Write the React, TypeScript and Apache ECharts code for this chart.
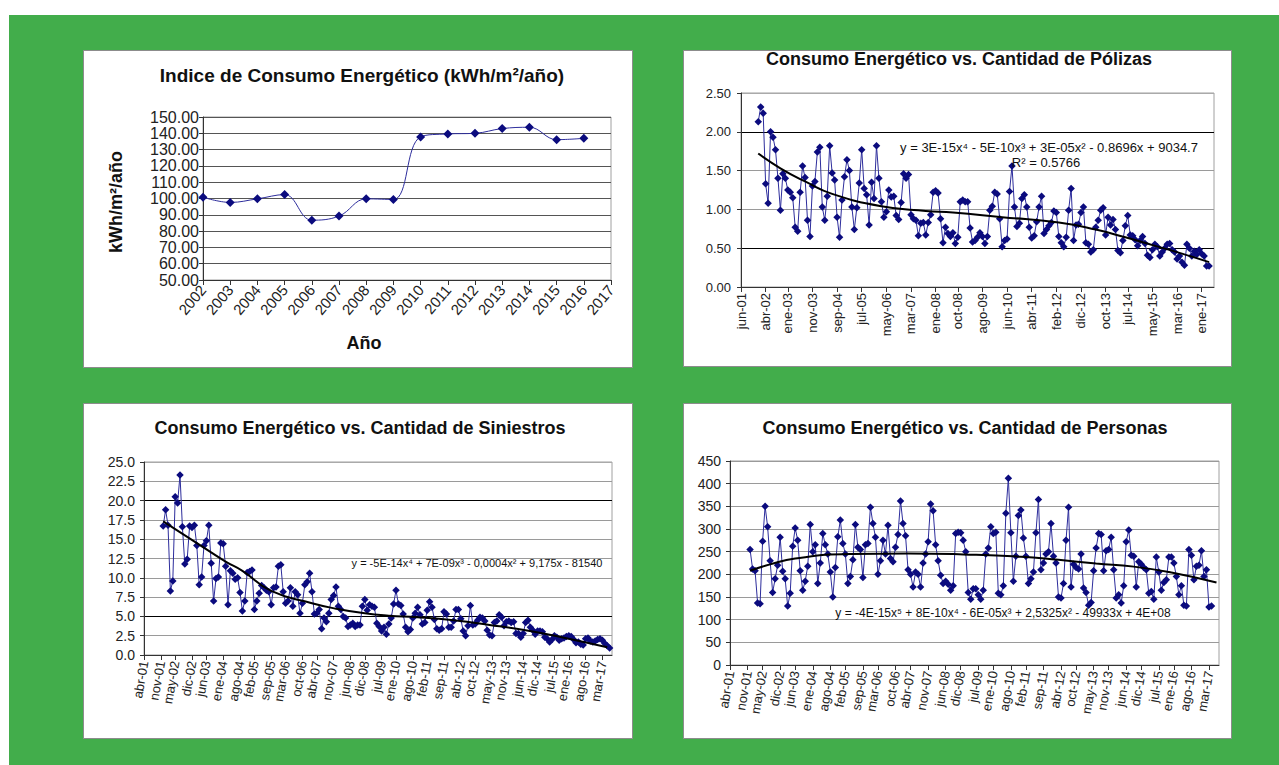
import React, { useEffect, useRef } from "react";
import * as echarts from "echarts";

const FONT = "'Liberation Sans', Arial, Helvetica, sans-serif";

// ---------- Panel 1: Indice de Consumo Energético ----------
const years = ["2002", "2003", "2004", "2005", "2006", "2007", "2008", "2009", "2010", "2011", "2012", "2013", "2014", "2015", "2016", "2017"];
const indiceValues = [100.8, 97.6, 99.8, 102.4, 86.7, 89.2, 99.8, 99.4, 137.8, 139.6, 140.0, 142.9, 143.7, 136.1, 136.9];

// ---------- Monthly axes ----------
const MONTHS = ["ene", "feb", "mar", "abr", "may", "jun", "jul", "ago", "sep", "oct", "nov", "dic"];
function monthRange(startMonth: number, startYear: number, count: number): string[] {
  const out: string[] = [];
  for (let k = 0; k < count; k++) {
    const m = (startMonth + k) % 12;
    const y = startYear + Math.floor((startMonth + k) / 12);
    out.push(MONTHS[m] + "-" + String(y % 100).padStart(2, "0"));
  }
  return out;
}
const polizasMonths = monthRange(5, 2001, 193); // jun-01 ...
const monthsB = monthRange(3, 2001, 196); // abr-01 ...

const polizasTickLabels = ["jun-01", "abr-02", "ene-03", "nov-03", "sep-04", "jul-05", "may-06", "mar-07", "ene-08", "oct-08", "ago-09", "jun-10", "abr-11", "feb-12", "dic-12", "oct-13", "jul-14", "may-15", "mar-16", "ene-17"];
const tickLabelsB = ["abr-01", "nov-01", "may-02", "dic-02", "jun-03", "ene-04", "ago-04", "feb-05", "sep-05", "mar-06", "oct-06", "abr-07", "nov-07", "jun-08", "dic-08", "jul-09", "ene-10", "ago-10", "feb-11", "sep-11", "abr-12", "oct-12", "may-13", "nov-13", "jun-14", "dic-14", "jul-15", "ene-16", "ago-16", "mar-17"];

// ---------- Panel 2: Pólizas ----------
const polizasStart = "ene-02";
const polizasValues = [
  2.13, 2.32, 2.24, 1.33, 1.08, 2.0, 1.93, 1.77, 1.4, 0.99,
  1.46, 1.4, 1.25, 1.22, 1.15, 0.77, 0.72, 1.22, 1.56, 1.41,
  0.86, 0.65, 1.3, 1.36, 1.74, 1.8, 1.03, 0.86, 1.17, 1.82,
  1.47, 1.38, 0.9, 0.64, 1.12, 1.42, 1.64, 1.5, 1.03, 0.74,
  1.02, 1.34, 1.77, 1.27, 1.19, 0.8, 1.35, 1.14, 1.82, 1.4,
  1.1, 0.9, 0.97, 1.25, 1.16, 1.17, 0.92, 0.87, 1.09, 1.46,
  1.4, 1.45, 0.93, 0.88, 0.86, 0.66, 0.82, 0.83, 0.67, 0.83,
  0.93, 1.22, 1.24, 1.21, 0.88, 0.57, 0.77, 0.69, 0.65, 0.7,
  0.56, 0.64, 1.1, 1.12, 1.1, 1.1, 0.76, 0.58, 0.6, 0.64,
  0.7, 0.65, 0.56, 0.65, 0.99, 1.04, 1.22, 1.2, 0.88, 0.52,
  0.6, 0.62, 1.23, 1.56, 1.03, 0.78, 0.82, 1.14, 1.19, 1.03,
  0.77, 0.63, 0.66, 0.84, 1.03, 1.17, 0.69, 0.74, 0.79, 0.83,
  0.98, 0.96, 0.65, 0.57, 0.52, 0.64, 0.99, 1.27, 0.6, 0.8,
  0.81, 0.96, 1.03, 0.57, 0.55, 0.45, 0.48, 0.77, 0.86, 0.99,
  1.02, 0.67, 0.9, 0.8, 0.87, 0.74, 0.47, 0.44, 0.6, 0.79,
  0.92, 0.67, 0.66, 0.61, 0.53, 0.6, 0.65, 0.56, 0.41, 0.38,
  0.48, 0.55, 0.52, 0.4, 0.45, 0.5, 0.55, 0.56, 0.48, 0.45,
  0.36, 0.4, 0.32, 0.28, 0.55, 0.5, 0.4, 0.46, 0.42, 0.48,
  0.43, 0.4, 0.27, 0.27,
];
const polizasTrendMonths = ["ene-02", "oct-02", "ago-03", "jul-04", "mar-06", "sep-07", "ago-08", "abr-10", "mar-12", "jun-13", "jun-14", "may-15", "may-16", "abr-17"];
const polizasTrendValues = [1.72, 1.53, 1.36, 1.2, 1.04, 0.98, 0.96, 0.9, 0.83, 0.74, 0.64, 0.54, 0.43, 0.32];

// ---------- Panel 3: Siniestros ----------
const siniestrosStart = "dic-01";
const siniestrosValues = [
  16.7, 18.8, 16.8, 8.3, 9.6, 20.5, 19.7, 23.3, 16.6, 11.8,
  12.4, 16.7, 16.5, 16.8, 14.2, 9.1, 10.1, 14.2, 14.8, 16.8,
  11.9, 7.0, 9.9, 10.1, 14.5, 14.4, 11.5, 6.5, 10.9, 10.6,
  9.8, 10.0, 8.1, 5.7, 7.0, 10.7, 10.8, 11.0, 5.9, 7.0,
  8.0, 9.0, 8.7, 8.4, 8.2, 6.5, 8.7, 8.8, 11.5, 11.7,
  8.2, 6.7, 7.0, 8.7, 6.3, 8.2, 7.8, 5.4, 6.7, 9.1,
  9.5, 10.6, 8.2, 5.3, 5.4, 5.9, 3.4, 4.8, 4.3, 5.4,
  7.2, 7.7, 8.8, 6.3, 5.9, 5.0, 4.8, 3.7, 3.9, 4.1,
  3.7, 3.9, 3.9, 6.3, 7.2, 5.8, 6.5, 6.3, 6.2, 4.1,
  3.7, 3.1, 3.6, 2.7, 4.0, 4.8, 6.6, 8.4, 6.6, 6.4,
  5.3, 3.6, 3.0, 3.3, 4.8, 5.4, 6.2, 5.2, 4.0, 4.2,
  5.8, 6.9, 6.2, 4.6, 3.4, 3.2, 3.4, 5.6, 5.3, 3.6,
  3.6, 4.4, 5.9, 5.9, 4.7, 3.1, 2.5, 3.8, 6.4, 3.9,
  4.0, 4.5, 4.9, 4.8, 4.4, 3.2, 2.6, 2.5, 4.2, 4.4,
  5.2, 4.9, 3.8, 4.3, 4.4, 4.2, 4.3, 2.8, 2.8, 2.3,
  2.8, 4.2, 4.5, 3.6, 3.2, 2.7, 3.1, 3.1, 3.0, 2.3,
  2.1, 1.7, 2.0, 2.5, 2.3, 1.9, 2.1, 2.2, 2.4, 2.5,
  2.4, 2.0, 1.6, 1.7, 1.4, 1.3, 2.1, 2.2, 1.8, 1.7,
  1.8, 2.0, 2.1, 1.9, 1.5, 1.2, 0.9,
];
const siniestrosTrendMonths = ["dic-01", "mar-03", "feb-04", "sep-04", "sep-05", "feb-07", "dic-07", "dic-08", "oct-09", "oct-10", "ene-12", "abr-13", "jul-14", "oct-15", "may-17"];
const siniestrosTrendValues = [17.3, 14.3, 12.1, 10.9, 8.3, 6.7, 6.0, 5.4, 5.1, 4.9, 4.5, 3.9, 3.2, 2.3, 1.0];

// ---------- Panel 4: Personas ----------
const personasStart = "dic-01";
const personasValues = [
  255, 212, 208, 137, 135, 273, 350, 305, 230, 160,
  190, 220, 282, 207, 190, 130, 158, 262, 302, 275,
  208, 165, 185, 218, 310, 250, 265, 180, 225, 290,
  265, 245, 205, 150, 215, 283, 320, 268, 245, 180,
  195, 232, 310, 260, 255, 193, 265, 268, 348, 312,
  282, 200, 230, 275, 245, 308, 235, 228, 260, 288,
  362, 312, 285, 210, 200, 172, 205, 200, 172, 225,
  245, 272, 355, 340, 265, 230, 198, 180, 185, 178,
  165, 175, 290, 293, 292, 275, 250, 160, 145, 168,
  168, 155, 145, 165, 245, 258, 305, 290, 293, 158,
  155, 175, 335, 412, 292, 185, 240, 330, 342, 280,
  240, 180, 190, 205, 292, 365, 210, 225, 245, 250,
  312, 240, 225, 150, 148, 180, 275, 348, 172, 222,
  215, 212, 245, 170, 160, 132, 138, 208, 258, 290,
  288, 208, 252, 255, 282, 210, 148, 155, 137, 175,
  272, 298, 242, 240, 172, 228, 222, 215, 210, 158,
  162, 145, 238, 205, 165, 182, 188, 238, 238, 225,
  195, 155, 175, 132, 130, 255, 242, 188, 218, 220,
  252, 195, 210, 128, 130,
];
const personasTrendMonths = ["dic-01", "ago-02", "jun-03", "abr-05", "mar-07", "ene-09", "dic-10", "mar-12", "jun-13", "sep-14", "dic-15", "jun-17"];
const personasTrendValues = [208, 222, 235, 245, 246, 244, 239, 232, 224, 217, 204, 182];

const eqPolizas = "y = 3E-15x\u2074 - 5E-10x\u00b3 + 3E-05x\u00b2 - 0.8696x + 9034.7";
const r2Polizas = "R\u00b2 = 0.5766";
const eqSiniestros = "y = -5E-14x\u2074 + 7E-09x\u00b3 - 0,0004x\u00b2 + 9,175x - 81540";
const eqPersonas = "y = -4E-15x\u2075 + 8E-10x\u2074 - 6E-05x\u00b3 + 2,5325x\u00b2 - 49933x + 4E+08";

function pairs(cats: string[], start: string, vals: number[]) {
  const s = cats.indexOf(start);
  return vals.map((v, k) => [s + k, v]);
}
function trendPairs(cats: string[], months: string[], vals: number[]) {
  return months.map((m, k) => [cats.indexOf(m), vals[k]]);
}

const LINE = "#2d2d9c";
const MARK = "#0b0b7e";

function text(x: number, y: number, t: string, size: number, bold: boolean, extra: any = {}) {
  return {
    type: "text",
    x,
    y,
    z: 100,
    silent: true,
    ...extra,
    style: {
      text: t,
      fontSize: size,
      fontWeight: bold ? "bold" : "normal",
      fontFamily: FONT,
      fill: "#111",
      align: "center",
      verticalAlign: "middle",
      textAlign: "center",
      textVerticalAlign: "middle",
    },
  };
}

function panelRect(x: number, y: number, w: number, h: number) {
  return {
    type: "rect",
    z: -10,
    silent: true,
    shape: { x: x + 0.5, y: y + 0.5, width: w, height: h },
    style: { fill: "#ffffff", stroke: "#8c8c8c", lineWidth: 1 },
  };
}

function monthAxis(gridIndex: number, cats: string[], ticks: string[], rotate: number, fontSize: number) {
  const set = new Set(ticks);
  return {
    type: "category",
    gridIndex,
    data: cats,
    boundaryGap: false,
    axisLine: { show: true, lineStyle: { color: "#333", width: 1 } },
    axisTick: { show: true, length: 5, interval: (_i: number, v: string) => set.has(v), lineStyle: { color: "#333" } },
    axisLabel: {
      interval: (_i: number, v: string) => set.has(v),
      rotate,
      fontSize,
      fontFamily: FONT,
      color: "#222",
      margin: 6,
    },
    splitLine: { show: false },
  };
}

function valueAxis(gridIndex: number, min: number, max: number, interval: number, digits: number, fontSize: number, colors: string[], margin: number) {
  return {
    type: "value",
    gridIndex,
    min,
    max,
    interval,
    axisLine: { show: true, lineStyle: { color: "#333", width: 1 } },
    axisTick: { show: true, length: 4, lineStyle: { color: "#333" } },
    axisLabel: {
      formatter: (v: number) => v.toFixed(digits),
      fontSize,
      fontFamily: FONT,
      color: "#222",
      margin,
    },
    splitLine: { show: true, lineStyle: { color: colors, width: 1 } },
  };
}

function dataSeries(xi: number, data: any[]) {
  return {
    type: "line",
    xAxisIndex: xi,
    yAxisIndex: xi,
    data,
    showAllSymbol: true,
    symbol: "diamond",
    symbolSize: 7.5,
    lineStyle: { color: LINE, width: 1 },
    itemStyle: { color: MARK },
  };
}
function trendSeries(xi: number, data: any[]) {
  return {
    type: "line",
    xAxisIndex: xi,
    yAxisIndex: xi,
    z: 5,
    data,
    smooth: true,
    symbol: "none",
    lineStyle: { color: "#000", width: 2 },
  };
}

export default function App() {
  const ref = useRef<HTMLDivElement>(null);
  useEffect(() => {
    document.body.style.margin = "0";
    if (!ref.current) return;
    const chart = echarts.init(ref.current, undefined, { renderer: "svg" });
    const G1 = "#555";
    const GG = "#9a9a9a";
    const option: any = {
      animation: false,
      backgroundColor: "#ffffff",
      textStyle: { fontFamily: FONT },
      graphic: [
        { type: "rect", z: -20, silent: true, shape: { x: 9, y: 15, width: 1270, height: 750 }, style: { fill: "#42ad4b" } },
        panelRect(83, 50, 549, 317),
        panelRect(683, 50, 548, 316),
        panelRect(83, 403, 549, 335),
        panelRect(683, 403, 548, 335),
        text(362, 75, "Indice de Consumo Energético (kWh/m²/año)", 19, true),
        text(116, 202, "kWh/m²/año", 18, true, { rotation: Math.PI / 2 }),
        text(364, 343, "Año", 18, true),
        text(959, 59, "Consumo Energético vs. Cantidad de Pólizas", 18, true),
        text(1049, 147, eqPolizas, 13, false),
        text(1046, 162, r2Polizas, 13, false),
        text(360, 428, "Consumo Energético vs. Cantidad de Siniestros", 18, true),
        text(477, 563, eqSiniestros, 11, false),
        text(965, 428, "Consumo Energético vs. Cantidad de Personas", 18, true),
        text(1003, 613, eqPersonas, 12, false),
      ],
      grid: [
        { left: 203, top: 117, width: 408, height: 163, show: true, borderColor: "#a0a0a0", borderWidth: 1 },
        { left: 741, top: 93, width: 473, height: 194, show: true, borderColor: "#a0a0a0", borderWidth: 1 },
        { left: 144, top: 462, width: 468, height: 193, show: true, borderColor: "#a0a0a0", borderWidth: 1 },
        { left: 730, top: 461, width: 489, height: 204, show: true, borderColor: "#a0a0a0", borderWidth: 1 },
      ],
      xAxis: [
        {
          type: "category",
          gridIndex: 0,
          data: years,
          boundaryGap: false,
          axisLine: { show: true, lineStyle: { color: "#333" } },
          axisTick: { show: true, length: 5, lineStyle: { color: "#333" } },
          axisLabel: { interval: 0, rotate: 50, fontSize: 15, fontFamily: FONT, color: "#222", margin: 7 },
          splitLine: { show: false },
        },
        monthAxis(1, polizasMonths, polizasTickLabels, 90, 13),
        monthAxis(2, monthsB, tickLabelsB, 80, 13),
        monthAxis(3, monthsB, tickLabelsB, 80, 13),
      ],
      yAxis: [
        valueAxis(0, 50, 150, 10, 2, 16, [G1], 4),
        valueAxis(1, 0, 2.5, 0.5, 2, 13, ["#000", "#000", GG, GG, "#000", "#aaa"], 10),
        valueAxis(2, 0, 25, 2.5, 1, 14, ["#000", GG, "#000", GG, GG, GG, GG, GG, "#000", GG, "#aaa"], 9),
        valueAxis(3, 0, 450, 50, 0, 14, [GG], 9),
      ],
      series: [
        {
          type: "line",
          xAxisIndex: 0,
          yAxisIndex: 0,
          data: indiceValues,
          smooth: 0.4,
          symbol: "diamond",
          symbolSize: 9,
          lineStyle: { color: LINE, width: 1 },
          itemStyle: { color: MARK },
        },
        dataSeries(1, pairs(polizasMonths, polizasStart, polizasValues)),
        trendSeries(1, trendPairs(polizasMonths, polizasTrendMonths, polizasTrendValues)),
        dataSeries(2, pairs(monthsB, siniestrosStart, siniestrosValues)),
        trendSeries(2, trendPairs(monthsB, siniestrosTrendMonths, siniestrosTrendValues)),
        dataSeries(3, pairs(monthsB, personasStart, personasValues)),
        trendSeries(3, trendPairs(monthsB, personasTrendMonths, personasTrendValues)),
      ],
    };
    chart.setOption(option);
    return () => chart.dispose();
  }, []);
  return <div ref={ref} style={{ position: "fixed", left: 0, top: 0, width: 1279, height: 765 }} />;
}
